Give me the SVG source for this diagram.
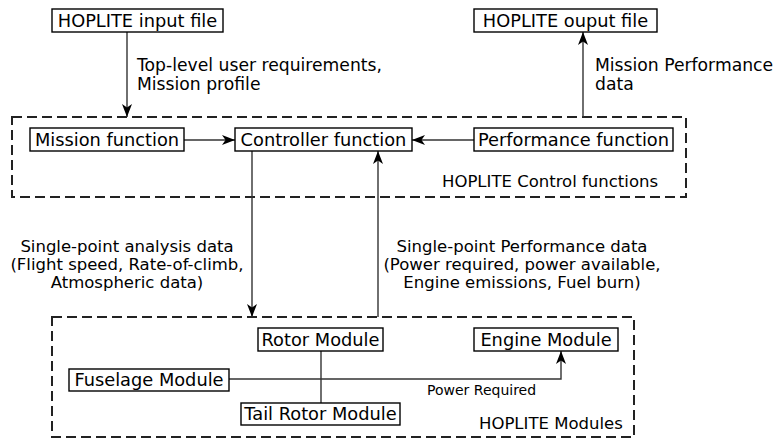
<svg xmlns="http://www.w3.org/2000/svg" width="783" height="439" viewBox="0 0 783 439">
<style>
.box{fill:#fff;stroke:#000;stroke-width:1.4}
.grp{fill:none;stroke:#222;stroke-width:2;stroke-dasharray:10,5}
.bt{font-family:"DejaVu Sans",sans-serif;font-size:17.8px;fill:#000;text-anchor:middle}
.lb{font-family:"DejaVu Sans",sans-serif;font-size:17.2px;fill:#000}
.lc{font-family:"DejaVu Sans",sans-serif;font-size:16.5px;fill:#000}
.sm{font-family:"DejaVu Sans",sans-serif;font-size:14px;fill:#000}
.cn{fill:none;stroke:#333;stroke-width:1.4}
</style>
<defs>
<marker id="ah" markerUnits="userSpaceOnUse" viewBox="0 0 13 10" refX="13" refY="5" markerWidth="13" markerHeight="10" orient="auto">
<path d="M0,0 L13,5 L0,10 L3.5,5 z" fill="#000"/>
</marker>
</defs>
<rect width="783" height="439" fill="#fff"/>
<g id="groups">
<rect id="control-group" class="grp" x="12" y="117" width="674" height="80"/>
<text class="lc" x="442" y="187">HOPLITE Control functions</text>
<rect id="modules-group" class="grp" x="52" y="317" width="582" height="120"/>
<text class="lc" x="479" y="429">HOPLITE Modules</text>
</g>
<g id="connectors">
<line class="cn" x1="127" y1="32" x2="127" y2="117" marker-end="url(#ah)"/>
<line class="cn" x1="184" y1="140" x2="235" y2="140" marker-end="url(#ah)"/>
<line class="cn" x1="474" y1="140" x2="412" y2="140" marker-end="url(#ah)"/>
<line class="cn" x1="583" y1="117" x2="583" y2="32" marker-end="url(#ah)"/>
<line class="cn" x1="252" y1="151" x2="252" y2="317" marker-end="url(#ah)"/>
<line class="cn" x1="378" y1="317" x2="378" y2="151" marker-end="url(#ah)"/>
<line class="cn" x1="321" y1="351" x2="321" y2="403"/>
<path class="cn" d="M229,379 H561 V351" marker-end="url(#ah)"/>
<text class="lb" x="137" y="71">Top-level user requirements,</text>
<text class="lb" x="137" y="89.5">Mission profile</text>
<text class="lb" x="595" y="71">Mission Performance</text>
<text class="lb" x="595" y="89.5">data</text>
<text class="lc" text-anchor="middle" x="127" y="252">Single-point analysis data</text>
<text class="lc" text-anchor="middle" x="127" y="270">(Flight speed, Rate-of-climb,</text>
<text class="lc" text-anchor="middle" x="127" y="288">Atmospheric data)</text>
<text class="lc" text-anchor="middle" x="522" y="252">Single-point Performance data</text>
<text class="lc" text-anchor="middle" x="522" y="270">(Power required, power available,</text>
<text class="lc" text-anchor="middle" x="522" y="288">Engine emissions, Fuel burn)</text>
<text class="sm" x="427" y="395">Power Required</text>
</g>
<g id="input-file"><rect class="box" x="52" y="9" width="171" height="23"/><text class="bt" x="137.5" y="26.5">HOPLITE input file</text></g>
<g id="output-file"><rect class="box" x="474" y="9" width="183" height="23"/><text class="bt" x="565.5" y="26.5">HOPLITE ouput file</text></g>
<g id="mission-function"><rect class="box" x="30" y="128" width="154" height="23"/><text class="bt" x="107" y="145.5">Mission function</text></g>
<g id="controller-function"><rect class="box" x="235" y="128" width="177" height="23"/><text class="bt" x="323.5" y="145.5">Controller function</text></g>
<g id="performance-function"><rect class="box" x="474" y="128" width="199" height="23"/><text class="bt" x="573.5" y="145.5">Performance function</text></g>
<g id="rotor-module"><rect class="box" x="258" y="328" width="125" height="23"/><text class="bt" x="320.5" y="345.5">Rotor Module</text></g>
<g id="engine-module"><rect class="box" x="474" y="328" width="144" height="23"/><text class="bt" x="546" y="345.5">Engine Module</text></g>
<g id="fuselage-module"><rect class="box" x="69" y="369" width="160" height="22"/><text class="bt" x="149" y="386">Fuselage Module</text></g>
<g id="tail-rotor-module"><rect class="box" x="241" y="403" width="159" height="22"/><text class="bt" x="320.5" y="420">Tail Rotor Module</text></g>
</svg>
